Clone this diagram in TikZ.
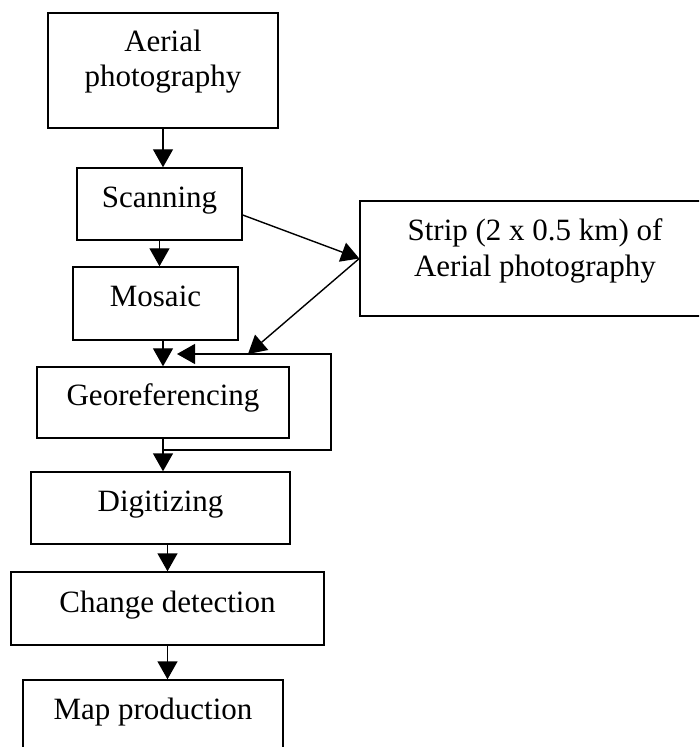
\documentclass[tikz,border=0pt]{standalone}
\usepackage{fontspec}
\setmainfont{Liberation Serif}
\usepackage{tikz}
\usetikzlibrary{arrows.meta,positioning}

\begin{document}
\begin{tikzpicture}[x=0.5pt,y=-0.5pt,line width=0.7pt,font=\fontsize{15.5}{17.8}\selectfont,
box/.style={draw,align=center,inner sep=0pt,text height=11pt,text depth=7.5pt},
bigbox/.style={box,text height=24pt},
>={Triangle[width=10pt,length=9pt]}]
\clip (0,0) rectangle (699,747);
\node[bigbox,minimum width=115pt,minimum height=57.5pt] (aerial) at (163,70.5) {Aerial\\photography};
\node[box,minimum width=82.5pt,minimum height=36pt] (scan) at (159.5,204) {Scanning};
\node[box,minimum width=82.5pt,minimum height=36.5pt] (mosaic) at (155.5,303.5) {Mosaic};
\node[box,minimum width=126pt,minimum height=35.5pt] (geo) at (163,402.5) {Georeferencing};
\node[box,minimum width=129.5pt,minimum height=36pt] (digit) at (160.5,508) {Digitizing};
\node[box,minimum width=156.5pt,minimum height=36.5pt] (change) at (167.5,608.5) {Change detection};
\node[box,minimum width=130pt,minimum height=36pt] (map) at (153,716) {Map production};
\node[bigbox,text height=25.5pt,minimum width=175pt,minimum height=57.5pt] (strip) at (535,258.5) {Strip (2 x 0.5 km) of\\Aerial photography};
\coordinate (join) at (248,354);
\coordinate (back) at (177,354);
\coordinate (turn) at (331,450);
\path[->]
(aerial.south) edge (aerial.south |- scan.north)
(scan.south) edge (scan.south |- mosaic.north)
(geo.north |- mosaic.south) edge (geo.north)
(geo.south) edge (geo.south |- digit.north)
(change.north |- digit.south) edge (change.north)
(change.south) edge (change.south |- map.north)
([yshift=-5.5pt]scan.east) edge (strip.west)
(strip.west) edge (join);
\draw[->] (geo.south |- turn) -- (turn) |- (back);
\end{tikzpicture}
\end{document}
